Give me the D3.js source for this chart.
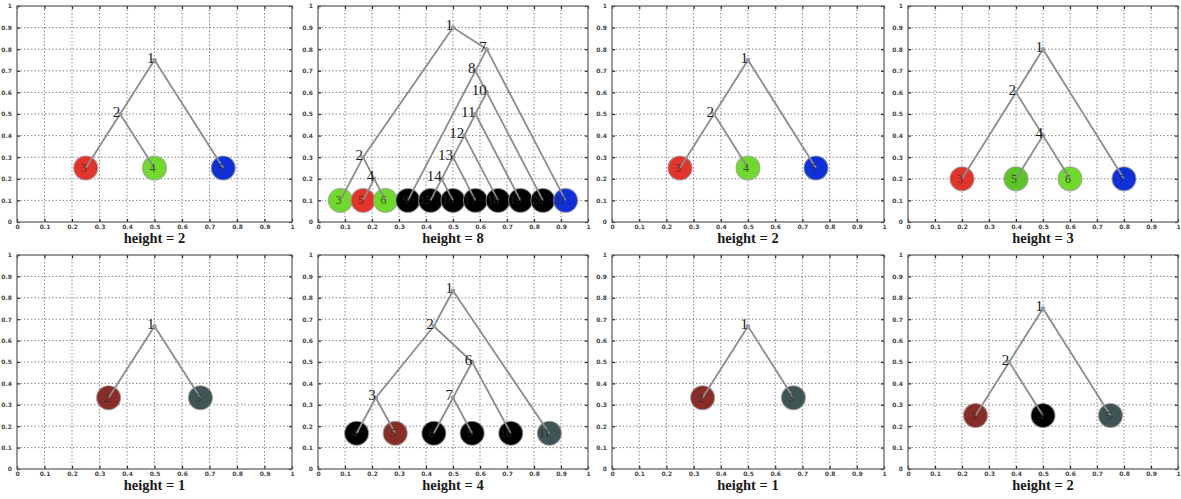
<!DOCTYPE html>
<html>
<head>
<meta charset="utf-8">
<script src="https://cdn.jsdelivr.net/npm/d3@7"></script>
<style>
  body { margin: 0; background: #fff; }
  svg { display: block; }
</style>
</head>
<body>
<div id="chart"></div>
<script>
const width = 1181,
    height = 499;

// one title per panel, left to right, top row first
const titles = ["height = 2", "height = 8", "height = 2", "height = 3",
                "height = 1", "height = 4", "height = 1", "height = 2"];

// nodes: [id, x, y, parent id (0 = root), leaf colour key or null]
const treeH2a = [
    [1, 0.5, 0.75, 0, null],
    [2, 0.375, 0.5, 1, null],
    [3, 0.25, 0.25, 2, "red"],
    [4, 0.5, 0.25, 2, "green"],
    [5, 0.75, 0.25, 1, "blue"]
];

const treeH8 = [
    [1, 0.5, 0.9, 0, null],
    [2, 0.167, 0.3, 1, null],
    [3, 0.083, 0.1, 2, "green"],
    [4, 0.208, 0.2, 2, null],
    [5, 0.167, 0.1, 4, "red"],
    [6, 0.25, 0.1, 4, "green"],
    [7, 0.625, 0.8, 1, null],
    [8, 0.583, 0.7, 7, null],
    [9, 0.333, 0.1, 8, "black"],
    [10, 0.625, 0.6, 8, null],
    [11, 0.583, 0.5, 10, null],
    [12, 0.542, 0.4, 11, null],
    [13, 0.5, 0.3, 12, null],
    [14, 0.458, 0.2, 13, null],
    [15, 0.417, 0.1, 14, "black"],
    [16, 0.5, 0.1, 14, "black"],
    [17, 0.583, 0.1, 13, "black"],
    [18, 0.667, 0.1, 12, "black"],
    [19, 0.75, 0.1, 11, "black"],
    [20, 0.833, 0.1, 10, "black"],
    [21, 0.917, 0.1, 7, "blue"]
];

const treeH3 = [
    [1, 0.5, 0.8, 0, null],
    [2, 0.4, 0.6, 1, null],
    [3, 0.2, 0.2, 2, "red"],
    [4, 0.5, 0.4, 2, null],
    [5, 0.4, 0.2, 4, "green2"],
    [6, 0.6, 0.2, 4, "green"],
    [7, 0.8, 0.2, 1, "blue"]
];

const treeH1 = [
    [1, 0.5, 0.667, 0, null],
    [2, 0.333, 0.333, 1, "brown"],
    [3, 0.667, 0.333, 1, "slate"]
];

const treeH4 = [
    [1, 0.5, 0.833, 0, null],
    [2, 0.429, 0.667, 1, null],
    [3, 0.214, 0.333, 2, null],
    [4, 0.143, 0.167, 3, "black"],
    [5, 0.286, 0.167, 3, "brown"],
    [6, 0.571, 0.5, 2, null],
    [7, 0.5, 0.333, 6, null],
    [8, 0.429, 0.167, 7, "black"],
    [9, 0.571, 0.167, 7, "black"],
    [10, 0.714, 0.167, 6, "black"],
    [11, 0.857, 0.167, 1, "slate"]
];

const treeH2b = [
    [1, 0.5, 0.75, 0, null],
    [2, 0.375, 0.5, 1, null],
    [3, 0.25, 0.25, 2, "brown"],
    [4, 0.5, 0.25, 2, "black"],
    [5, 0.75, 0.25, 1, "slate"]
];

const trees = [treeH2a, treeH8, treeH2a, treeH3, treeH1, treeH4, treeH1, treeH2b];

const leafColors = {
    red: "#e3342c",
    green: "#6fda2b",
    green2: "#5cc626",
    blue: "#0f2fd8",
    black: "#000000",
    brown: "#8a2c27",
    slate: "#3f5454"
};

const colLeft = [17, 318, 612, 908],
    colWidth = [275, 270, 272, 270],
    rowTop = [6, 255],
    rowHeight = [216, 214],
    leafRadius = 12;

const svg = d3.select("#chart").append("svg")
    .attr("width", width)
    .attr("height", height);

trees.forEach((tree, i) => {
    const col = i % 4, row = Math.floor(i / 4);
    const w = colWidth[col], h = rowHeight[row];

    const g = svg.append("g")
        .attr("transform", `translate(${colLeft[col]},${rowTop[row]})`);

    const x = d3.scaleLinear().domain([0, 1]).range([0, w]);
    const y = d3.scaleLinear().domain([0, 1]).range([h, 0]);
    const ticks = x.ticks(10);

    // dotted grid
    g.append("g").selectAll("line.vx")
        .data(ticks.slice(1, -1))
        .enter().append("line")
        .attr("x1", d => x(d)).attr("x2", d => x(d))
        .attr("y1", 0).attr("y2", h)
        .attr("stroke", "#7a7a7a")
        .attr("stroke-width", 0.9)
        .attr("stroke-dasharray", "1.5,2");
    g.append("g").selectAll("line.hy")
        .data(ticks.slice(1, -1))
        .enter().append("line")
        .attr("x1", 0).attr("x2", w)
        .attr("y1", d => y(d)).attr("y2", d => y(d))
        .attr("stroke", "#7a7a7a")
        .attr("stroke-width", 0.9)
        .attr("stroke-dasharray", "1.5,2");

    // axes, ticks pointing inwards on all four sides
    const fmt = d3.format("~g");
    const styleAxis = sel => {
        sel.select(".domain").remove();
        sel.selectAll(".tick line").attr("stroke", "#222").attr("stroke-width", 1.2);
        sel.selectAll(".tick text")
            .attr("fill", "#444")
            .style("font-family", "'DejaVu Sans', sans-serif")
            .style("font-size", "6px")
            .style("font-weight", "bold");
    };
    g.append("g").attr("transform", `translate(0,${h})`)
        .call(d3.axisBottom(x).ticks(10).tickFormat(fmt).tickSize(-3).tickPadding(3))
        .call(styleAxis);
    g.append("g")
        .call(d3.axisTop(x).ticks(10).tickFormat("").tickSize(-3))
        .call(styleAxis);
    g.append("g")
        .call(d3.axisLeft(y).ticks(10).tickFormat(fmt).tickSize(-3).tickPadding(5))
        .call(styleAxis);
    g.append("g").attr("transform", `translate(${w},0)`)
        .call(d3.axisRight(y).ticks(10).tickFormat("").tickSize(-3))
        .call(styleAxis);

    g.append("rect")
        .attr("width", w).attr("height", h)
        .attr("fill", "none")
        .attr("stroke", "#666")
        .attr("stroke-width", 1.3);

    const nodes = tree.map(([id, nx, ny, parent, color]) => ({ id, nx, ny, parent, color }));
    const byId = new Map(nodes.map(n => [n.id, n]));
    const leaves = nodes.filter(n => n.color);
    const inner = nodes.filter(n => !n.color);
    const edges = nodes.filter(n => n.parent).map(n => [byId.get(n.parent), n]);

    g.append("g").selectAll("circle")
        .data(leaves)
        .enter().append("circle")
        .attr("cx", d => x(d.nx))
        .attr("cy", d => y(d.ny))
        .attr("r", leafRadius)
        .attr("fill", d => leafColors[d.color])
        .attr("stroke", "#9a9a9a")
        .attr("stroke-opacity", 0.7)
        .attr("stroke-width", 1.2);

    g.append("g").selectAll("line")
        .data(edges)
        .enter().append("line")
        .attr("x1", d => x(d[0].nx)).attr("y1", d => y(d[0].ny))
        .attr("x2", d => x(d[1].nx)).attr("y2", d => y(d[1].ny))
        .attr("stroke", "#8c8c8c")
        .attr("stroke-width", 1.8);

    g.append("g").selectAll("circle")
        .data(inner)
        .enter().append("circle")
        .attr("cx", d => x(d.nx))
        .attr("cy", d => y(d.ny))
        .attr("r", 2.3)
        .attr("fill", "#9a9a9a");

    g.append("g").selectAll("text")
        .data(nodes)
        .enter().append("text")
        .attr("x", d => x(d.nx) + (d.color ? 1 : 0))
        .attr("y", d => y(d.ny) + (d.color ? 4 : 2.5))
        .attr("text-anchor", "end")
        .attr("fill", d => d.color ? "#2a2a2a" : "#1a1a1a")
        .attr("fill-opacity", d => d.color ? 0.8 : 1)
        .style("font-family", "'Liberation Serif', 'DejaVu Serif', serif")
        .style("font-size", d => d.color ? "12px" : "15px")
        .text(d => d.id);

    g.append("text")
        .attr("x", w / 2)
        .attr("y", h + 21)
        .attr("text-anchor", "middle")
        .attr("fill", "#1a1a1a")
        .style("font-family", "'Liberation Serif', 'DejaVu Serif', serif")
        .style("font-size", "14.5px")
        .style("font-weight", "bold")
        .text(titles[i]);
});
</script>
</body>
</html>
